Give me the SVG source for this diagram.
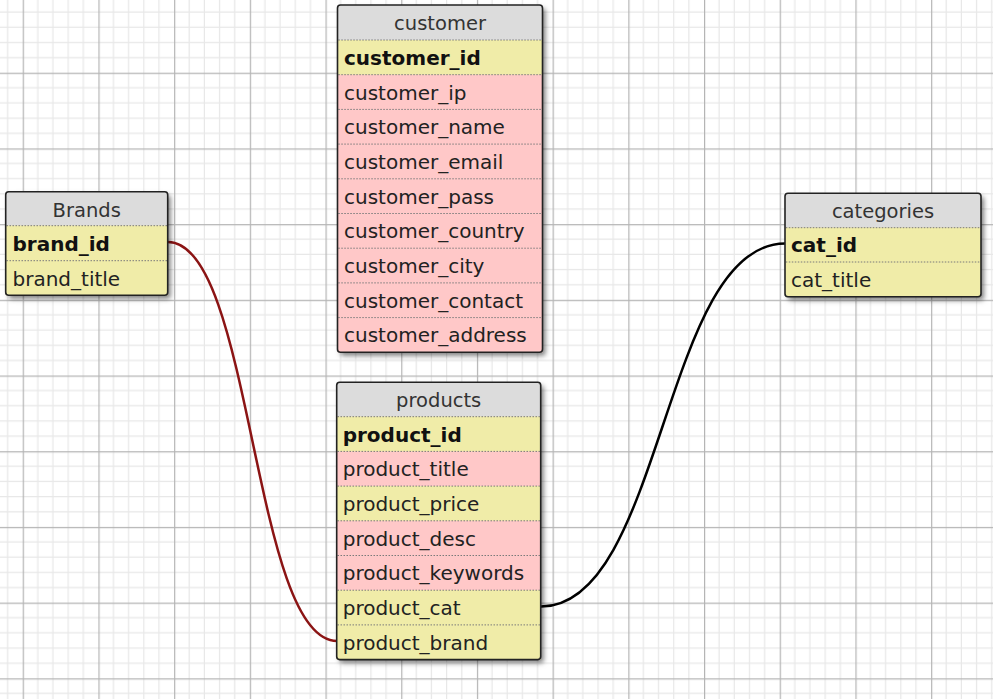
<svg xmlns="http://www.w3.org/2000/svg" width="993" height="699" viewBox="0 0 993 699">
<defs>
<pattern id="grid" patternUnits="userSpaceOnUse" x="22.7" y="-3" width="75.7" height="75.7">
<rect width="75.7" height="75.7" fill="#ffffff"/>
<g stroke="#e8e8e8" stroke-width="1.2">
<line x1="15.14" y1="0" x2="15.14" y2="75.7"/><line x1="30.28" y1="0" x2="30.28" y2="75.7"/><line x1="45.42" y1="0" x2="45.42" y2="75.7"/><line x1="60.56" y1="0" x2="60.56" y2="75.7"/>
<line y1="15.14" x1="0" y2="15.14" x2="75.7"/><line y1="30.28" x1="0" y2="30.28" x2="75.7"/><line y1="45.42" x1="0" y2="45.42" x2="75.7"/><line y1="60.56" x1="0" y2="60.56" x2="75.7"/>
</g>
<g stroke="#b5b5b5" stroke-width="1.4">
<line x1="0.5" y1="0" x2="0.5" y2="75.7"/><line y1="0.5" x1="0" y2="0.5" x2="75.7"/>
</g>
</pattern>
<filter id="shadow" x="-10%" y="-10%" width="130%" height="130%">
<feDropShadow dx="3" dy="3.5" stdDeviation="2.8" flood-color="#000" flood-opacity="0.5"/>
</filter>
</defs>
<style>
.box{fill:#f0eca8;filter:url(#shadow)}
.outline{fill:none;stroke:#222;stroke-width:1.6}
.hdr{fill:#dcdcdc}
.y{fill:#f0eca8}
.p{fill:#ffc8c8}
.sep{stroke:#7a7a7a;stroke-width:1;stroke-dasharray:1.5 1.5}
.ht{font-family:"DejaVu Sans",Verdana,sans-serif;font-size:19.5px;fill:#333;text-anchor:middle}
.ft{font-family:"DejaVu Sans",Verdana,sans-serif;font-size:20px;fill:#222}
.kt{font-family:"DejaVu Sans",Verdana,sans-serif;font-size:20px;fill:#111;font-weight:bold}
.link{fill:none;stroke-width:2.5}
</style>
<rect width="993" height="699" fill="url(#grid)"/>

<g id="connectors">
<path class="link" stroke="#8b1414" d="M168,242 C252.5,242 252.5,641 337,641"/>
<path class="link" stroke="#000" d="M541,606.5 C663,606.5 663,243.5 785,243.5"/>
</g>

<g id="brands">
<rect class="box" x="5.7" y="191.7" width="162" height="103.6" rx="3"/>
<rect class="hdr" x="5.7" y="191.7" width="162" height="34"/>
<rect class="y" x="5.7" y="225.7" width="162" height="35"/>
<rect class="y" x="5.7" y="260.7" width="162" height="34.6"/>
<line class="sep" x1="6.5" y1="225.7" x2="167" y2="225.7"/>
<line class="sep" x1="6.5" y1="260.7" x2="167" y2="260.7"/>
<rect class="outline" x="5.7" y="191.7" width="162" height="103.6" rx="3"/>
<text class="ht" x="86.7" y="216.5">Brands</text>
<text class="kt" x="12.5" y="250.5">brand_id</text>
<text class="ft" x="12.5" y="285.5">brand_title</text>
</g>

<g id="customer">
<rect class="box" x="337.5" y="5" width="205" height="347.3" rx="3"/>
<rect class="hdr" x="337.5" y="5" width="205" height="35"/>
<rect class="y" x="337.5" y="40" width="205" height="34.7"/>
<rect class="p" x="337.5" y="74.7" width="205" height="277.6"/>
<g class="sep">
<line x1="338.3" y1="40" x2="541.7" y2="40"/>
<line x1="338.3" y1="74.7" x2="541.7" y2="74.7"/>
<line x1="338.3" y1="109.4" x2="541.7" y2="109.4"/>
<line x1="338.3" y1="144.1" x2="541.7" y2="144.1"/>
<line x1="338.3" y1="178.8" x2="541.7" y2="178.8"/>
<line x1="338.3" y1="213.5" x2="541.7" y2="213.5"/>
<line x1="338.3" y1="248.2" x2="541.7" y2="248.2"/>
<line x1="338.3" y1="282.9" x2="541.7" y2="282.9"/>
<line x1="338.3" y1="317.6" x2="541.7" y2="317.6"/>
</g>
<rect class="outline" x="337.5" y="5" width="205" height="347.3" rx="3"/>
<text class="ht" x="440" y="30">customer</text>
<text class="kt" x="344" y="64.8">customer_id</text>
<text class="ft" x="344" y="99.5">customer_ip</text>
<text class="ft" x="344" y="134.2">customer_name</text>
<text class="ft" x="344" y="168.9">customer_email</text>
<text class="ft" x="344" y="203.6">customer_pass</text>
<text class="ft" x="344" y="238.3">customer_country</text>
<text class="ft" x="344" y="273">customer_city</text>
<text class="ft" x="344" y="307.7">customer_contact</text>
<text class="ft" x="344" y="342.4">customer_address</text>
</g>

<g id="products">
<rect class="box" x="336.7" y="382.3" width="204" height="277.3" rx="3"/>
<rect class="hdr" x="336.7" y="382.3" width="204" height="34.4"/>
<rect class="y" x="336.7" y="416.7" width="204" height="34.7"/>
<rect class="p" x="336.7" y="451.4" width="204" height="34.7"/>
<rect class="y" x="336.7" y="486.1" width="204" height="34.7"/>
<rect class="p" x="336.7" y="520.8" width="204" height="69.4"/>
<rect class="y" x="336.7" y="590.2" width="204" height="69.4"/>
<g class="sep">
<line x1="337.5" y1="416.7" x2="539.9" y2="416.7"/>
<line x1="337.5" y1="451.4" x2="539.9" y2="451.4"/>
<line x1="337.5" y1="486.1" x2="539.9" y2="486.1"/>
<line x1="337.5" y1="520.8" x2="539.9" y2="520.8"/>
<line x1="337.5" y1="555.5" x2="539.9" y2="555.5"/>
<line x1="337.5" y1="590.2" x2="539.9" y2="590.2"/>
<line x1="337.5" y1="624.9" x2="539.9" y2="624.9"/>
</g>
<rect class="outline" x="336.7" y="382.3" width="204" height="277.3" rx="3"/>
<text class="ht" x="438.7" y="407">products</text>
<text class="kt" x="342.7" y="441.5">product_id</text>
<text class="ft" x="342.7" y="476.2">product_title</text>
<text class="ft" x="342.7" y="510.9">product_price</text>
<text class="ft" x="342.7" y="545.6">product_desc</text>
<text class="ft" x="342.7" y="580.3">product_keywords</text>
<text class="ft" x="342.7" y="615">product_cat</text>
<text class="ft" x="342.7" y="649.7">product_brand</text>
</g>

<g id="categories">
<rect class="box" x="785" y="193.3" width="196" height="103.4" rx="3"/>
<rect class="hdr" x="785" y="193.3" width="196" height="34.4"/>
<rect class="y" x="785" y="227.7" width="196" height="69"/>
<line class="sep" x1="785.8" y1="227.7" x2="980.2" y2="227.7"/>
<line class="sep" x1="785.8" y1="262" x2="980.2" y2="262"/>
<rect class="outline" x="785" y="193.3" width="196" height="103.4" rx="3"/>
<text class="ht" x="883" y="218">categories</text>
<text class="kt" x="791" y="252.2">cat_id</text>
<text class="ft" x="791" y="286.9">cat_title</text>
</g>
</svg>
